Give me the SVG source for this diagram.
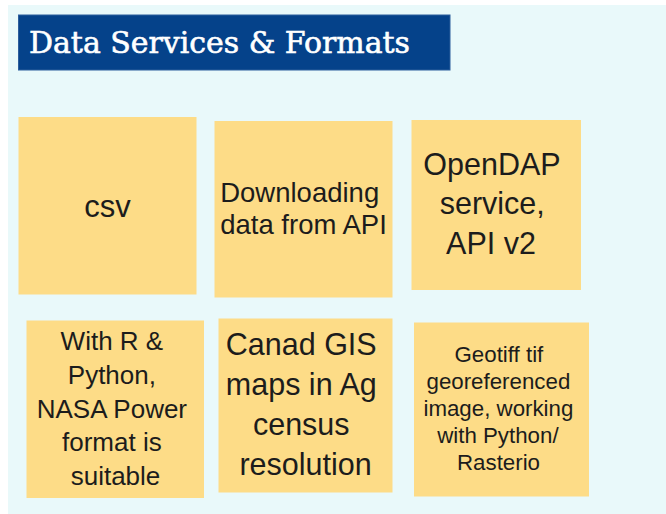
<svg xmlns="http://www.w3.org/2000/svg" width="666" height="514" viewBox="0 0 666 514">
  <style>
    .sticky { fill: #fddc87; }
    .note { font-family: "Liberation Sans", Arial, sans-serif; fill: #1c1c1c; text-anchor: middle; }
    .title { font-family: "DejaVu Serif", "Liberation Serif", serif; font-weight: normal; fill: #ffffff; stroke: #ffffff; stroke-width: 0.6; }
  </style>

  <!-- board background -->
  <rect x="8" y="5" width="658" height="509" fill="#e9f9fa"/>

  <!-- heading banner -->
  <g id="heading">
    <rect x="18.5" y="15" width="431.5" height="55" fill="#05428a" stroke="#2c5e9c" stroke-width="1"/>
    <text class="title" x="29" y="53" font-size="29" textLength="381" lengthAdjust="spacingAndGlyphs">Data Services &amp; Formats</text>
  </g>

  <!-- top row of notes -->
  <g id="note-csv">
    <rect class="sticky" x="18.5" y="117" width="178" height="177.5"/>
    <text class="note" x="107.5" y="217" font-size="31">csv</text>
  </g>

  <g id="note-download">
    <rect class="sticky" x="214.5" y="121" width="178" height="176.5"/>
    <text class="note" font-size="27.5">
      <tspan x="303.5" y="201.5">Downloading</tspan>
      <tspan x="303.5" y="233.5">data from API</tspan>
    </text>
  </g>

  <g id="note-opendap">
    <rect class="sticky" x="411.5" y="120" width="169.5" height="170"/>
    <text class="note" font-size="30.5">
      <tspan x="496" y="175">OpenDAP</tspan>
      <tspan x="496.5" y="214">service,</tspan>
      <tspan x="491" y="254">API v2</tspan>
    </text>
  </g>

  <!-- bottom row of notes -->
  <g id="note-nasa-power">
    <rect class="sticky" x="26.5" y="320.5" width="177.5" height="177.5"/>
    <text class="note" font-size="26">
      <tspan x="115.5" y="350">With R &amp;</tspan>
      <tspan x="115.5" y="384">Python,</tspan>
      <tspan x="115.5" y="418">NASA Power</tspan>
      <tspan x="115.5" y="451">format is</tspan>
      <tspan x="115.5" y="485">suitable</tspan>
    </text>
  </g>

  <g id="note-canad-gis">
    <rect class="sticky" x="218.5" y="318.5" width="174" height="174"/>
    <text class="note" font-size="30.5">
      <tspan x="305.5" y="355">Canad GIS</tspan>
      <tspan x="305.5" y="394.5">maps in Ag</tspan>
      <tspan x="305.5" y="434.5">census</tspan>
      <tspan x="305.5" y="474.5">resolution</tspan>
    </text>
  </g>

  <g id="note-geotiff">
    <rect class="sticky" x="414" y="322.5" width="175" height="174"/>
    <text class="note" font-size="22.3">
      <tspan x="502" y="362">Geotiff tif</tspan>
      <tspan x="501.5" y="389">georeferenced</tspan>
      <tspan x="501.5" y="416">image, working</tspan>
      <tspan x="501" y="443">with Python/</tspan>
      <tspan x="498.5" y="469.5">Rasterio</tspan>
    </text>
  </g>

  <!-- no connectors on this board -->
  <g id="connectors"/>
</svg>
